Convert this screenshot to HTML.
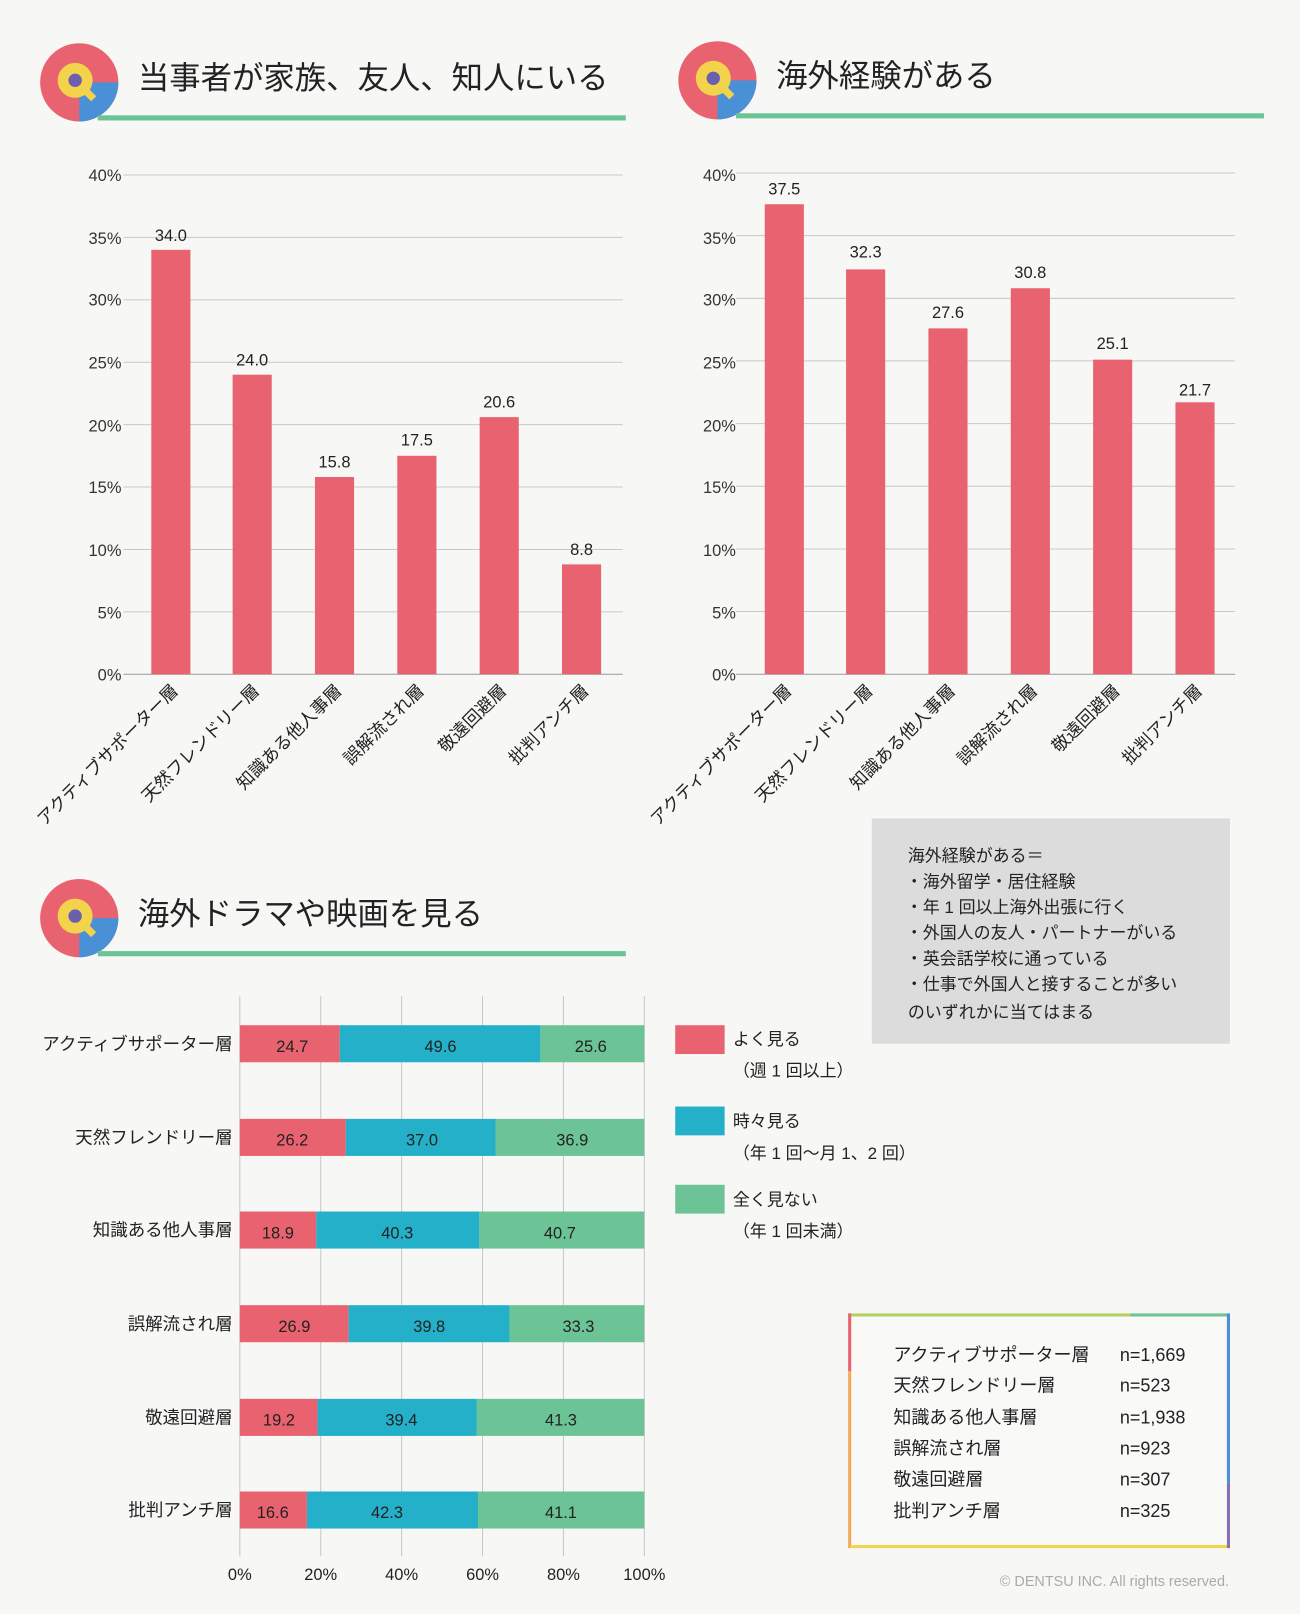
<!DOCTYPE html>
<html><head><meta charset="utf-8"><style>
html,body{margin:0;padding:0;background:#f7f7f5;}
svg{display:block;font-family:"Liberation Sans","Noto Sans CJK JP",sans-serif;}
</style></head><body>
<svg width="1300" height="1614" viewBox="0 0 1263 1568" xmlns="http://www.w3.org/2000/svg">
<rect width="1263" height="1568" fill="#f7f7f5"/>
<defs>
<g id="icon">
<circle cx="0" cy="0" r="38" fill="#e8636f"/>
<path d="M0,0 L38,0 A38,38 0 0 1 0,38 Z" fill="#4a90d6"/>
<path d="M2,4 L14,16" stroke="#f2d34b" stroke-width="7"/>
<circle cx="-4" cy="-2" r="17" fill="#f2d34b"/>
<circle cx="-4" cy="-2" r="6.5" fill="#6d5fb0"/>
</g>
</defs>
<use href="#icon" x="77" y="80"/>
<rect x="95" y="112" width="513" height="5" fill="#6cc396"/>
<text x="134" y="86" font-size="30.5" fill="#222">当事者が家族、友人、知人にいる</text>
<use href="#icon" x="697" y="78"/>
<rect x="715" y="110" width="513" height="5" fill="#6cc396"/>
<text x="754" y="84" font-size="30.5" fill="#222">海外経験がある</text>
<use href="#icon" x="77" y="892"/>
<rect x="95" y="924" width="513" height="5" fill="#6cc396"/>
<text x="134" y="898" font-size="30.5" fill="#222">海外ドラマや映画を見る</text>

<g stroke="#c8c8c8" stroke-width="1">
<line x1="120" y1="170" x2="605" y2="170"/><line x1="120" y1="230.6" x2="605" y2="230.6"/>
<line x1="120" y1="291.3" x2="605" y2="291.3"/><line x1="120" y1="351.9" x2="605" y2="351.9"/>
<line x1="120" y1="412.5" x2="605" y2="412.5"/><line x1="120" y1="473.1" x2="605" y2="473.1"/>
<line x1="120" y1="533.8" x2="605" y2="533.8"/><line x1="120" y1="594.4" x2="605" y2="594.4"/>
<line x1="120" y1="655" x2="605" y2="655" stroke="#999"/>
</g>
<g font-size="16" fill="#333" text-anchor="end">
<text x="118" y="176">40%</text><text x="118" y="237">35%</text><text x="118" y="297">30%</text>
<text x="118" y="358">25%</text><text x="118" y="419">20%</text><text x="118" y="479">15%</text>
<text x="118" y="540">10%</text><text x="118" y="601">5%</text><text x="118" y="661">0%</text>
</g>
<g fill="#e8636f">
<rect x="147" y="242.7" width="38" height="412.3"/><rect x="226" y="364" width="38" height="291"/>
<rect x="306" y="463.4" width="38" height="191.6"/><rect x="386" y="442.8" width="38" height="212.2"/>
<rect x="466" y="405.2" width="38" height="249.8"/><rect x="546" y="548.3" width="38" height="106.7"/>
</g>
<g font-size="16" fill="#222" text-anchor="middle">
<text x="166" y="234">34.0</text><text x="245" y="355">24.0</text><text x="325" y="454">15.8</text>
<text x="405" y="433">17.5</text><text x="485" y="396">20.6</text><text x="565" y="539">8.8</text>
</g>
<g font-size="17" fill="#222" text-anchor="end">
<text transform="translate(174,672) rotate(-45)">アクティブサポーター層</text>
<text transform="translate(253,672) rotate(-45)">天然フレンドリー層</text>
<text transform="translate(333,672) rotate(-45)">知識ある他人事層</text>
<text transform="translate(413,672) rotate(-45)">誤解流され層</text>
<text transform="translate(493,672) rotate(-45)">敬遠回避層</text>
<text transform="translate(573,672) rotate(-45)">批判アンチ層</text>
</g>

<g stroke="#c8c8c8" stroke-width="1">
<line x1="715" y1="168" x2="1200" y2="168"/><line x1="715" y1="228.9" x2="1200" y2="228.9"/>
<line x1="715" y1="289.8" x2="1200" y2="289.8"/><line x1="715" y1="350.6" x2="1200" y2="350.6"/>
<line x1="715" y1="411.5" x2="1200" y2="411.5"/><line x1="715" y1="472.4" x2="1200" y2="472.4"/>
<line x1="715" y1="533.3" x2="1200" y2="533.3"/><line x1="715" y1="594.1" x2="1200" y2="594.1"/>
<line x1="715" y1="655" x2="1200" y2="655" stroke="#999"/>
</g>
<g font-size="16" fill="#333" text-anchor="end">
<text x="715" y="176">40%</text><text x="715" y="237">35%</text><text x="715" y="297">30%</text>
<text x="715" y="358">25%</text><text x="715" y="419">20%</text><text x="715" y="479">15%</text>
<text x="715" y="540">10%</text><text x="715" y="601">5%</text><text x="715" y="661">0%</text>
</g>
<g fill="#e8636f">
<rect x="743" y="198.4" width="38" height="456.6"/><rect x="822" y="261.7" width="38" height="393.3"/>
<rect x="902" y="319" width="38" height="336"/><rect x="982" y="280" width="38" height="375"/>
<rect x="1062" y="349.4" width="38" height="305.6"/><rect x="1142" y="390.8" width="38" height="264.2"/>
</g>
<g font-size="16" fill="#222" text-anchor="middle">
<text x="762" y="189">37.5</text><text x="841" y="250">32.3</text><text x="921" y="309">27.6</text>
<text x="1001" y="270">30.8</text><text x="1081" y="339">25.1</text><text x="1161" y="384">21.7</text>
</g>
<g font-size="17" fill="#222" text-anchor="end">
<text transform="translate(770,672) rotate(-45)">アクティブサポーター層</text>
<text transform="translate(849,672) rotate(-45)">天然フレンドリー層</text>
<text transform="translate(929,672) rotate(-45)">知識ある他人事層</text>
<text transform="translate(1009,672) rotate(-45)">誤解流され層</text>
<text transform="translate(1089,672) rotate(-45)">敬遠回避層</text>
<text transform="translate(1169,672) rotate(-45)">批判アンチ層</text>
</g>

<rect x="847" y="795" width="348" height="219" fill="#dcdcdc"/>
<g font-size="16.5" fill="#222">
<text x="882" y="837">海外経験がある＝</text>
<text x="880" y="862">・海外留学・居住経験</text>
<text x="880" y="887">・年 1 回以上海外出張に行く</text>
<text x="880" y="912">・外国人の友人・パートナーがいる</text>
<text x="880" y="937">・英会話学校に通っている</text>
<text x="880" y="962">・仕事で外国人と接することが多い</text>
<text x="882" y="989">のいずれかに当てはまる</text>
</g>

<g stroke="#c8c8c8" stroke-width="1">
<line x1="233" y1="968" x2="233" y2="1512"/><line x1="311.6" y1="968" x2="311.6" y2="1512"/>
<line x1="390.2" y1="968" x2="390.2" y2="1512"/><line x1="468.8" y1="968" x2="468.8" y2="1512"/>
<line x1="547.4" y1="968" x2="547.4" y2="1512"/><line x1="626" y1="968" x2="626" y2="1512"/>
</g>
<g font-size="16" fill="#222" text-anchor="middle">
<text x="233" y="1535">0%</text><text x="311.6" y="1535">20%</text><text x="390.2" y="1535">40%</text>
<text x="468.8" y="1535">60%</text><text x="547.4" y="1535">80%</text><text x="626" y="1535">100%</text>
</g>
<g font-size="17" fill="#222" text-anchor="end">
<text x="226" y="1020">アクティブサポーター層</text><text x="226" y="1111">天然フレンドリー層</text>
<text x="226" y="1201">知識ある他人事層</text><text x="226" y="1292">誤解流され層</text>
<text x="226" y="1383">敬遠回避層</text><text x="226" y="1473">批判アンチ層</text>
</g>
<g>
<rect x="233" y="996" width="97.1" height="36" fill="#e8636f"/><rect x="330.1" y="996" width="194.9" height="36" fill="#24b0c8"/><rect x="525" y="996" width="101" height="36" fill="#6cc396"/>
<rect x="233" y="1087" width="103" height="36" fill="#e8636f"/><rect x="336" y="1087" width="145.4" height="36" fill="#24b0c8"/><rect x="481.4" y="1087" width="144.6" height="36" fill="#6cc396"/>
<rect x="233" y="1177" width="74.3" height="36" fill="#e8636f"/><rect x="307.3" y="1177" width="158.4" height="36" fill="#24b0c8"/><rect x="465.7" y="1177" width="160.3" height="36" fill="#6cc396"/>
<rect x="233" y="1268" width="105.7" height="36" fill="#e8636f"/><rect x="338.7" y="1268" width="156.4" height="36" fill="#24b0c8"/><rect x="495.1" y="1268" width="130.9" height="36" fill="#6cc396"/>
<rect x="233" y="1359" width="75.5" height="36" fill="#e8636f"/><rect x="308.5" y="1359" width="154.8" height="36" fill="#24b0c8"/><rect x="463.3" y="1359" width="162.7" height="36" fill="#6cc396"/>
<rect x="233" y="1449" width="65.2" height="36" fill="#e8636f"/><rect x="298.2" y="1449" width="166.2" height="36" fill="#24b0c8"/><rect x="464.4" y="1449" width="161.6" height="36" fill="#6cc396"/>
</g>
<g font-size="16" fill="#222" text-anchor="middle">
<text x="284" y="1022">24.7</text><text x="428" y="1022">49.6</text><text x="574" y="1022">25.6</text>
<text x="284" y="1113">26.2</text><text x="410" y="1113">37.0</text><text x="556" y="1113">36.9</text>
<text x="270" y="1203">18.9</text><text x="386" y="1203">40.3</text><text x="544" y="1203">40.7</text>
<text x="286" y="1294">26.9</text><text x="417" y="1294">39.8</text><text x="562" y="1294">33.3</text>
<text x="271" y="1385">19.2</text><text x="390" y="1385">39.4</text><text x="545" y="1385">41.3</text>
<text x="265" y="1475">16.6</text><text x="376" y="1475">42.3</text><text x="545" y="1475">41.1</text>
</g>
<rect x="656" y="996" width="48" height="28" fill="#e8636f"/>
<rect x="656" y="1075" width="48" height="28" fill="#24b0c8"/>
<rect x="656" y="1151" width="48" height="28" fill="#6cc396"/>
<g font-size="16.5" fill="#222">
<text x="712" y="1015">よく見る</text><text x="712" y="1046">（週 1 回以上）</text>
<text x="712" y="1095">時々見る</text><text x="712" y="1126">（年 1 回〜月 1、2 回）</text>
<text x="712" y="1171">全く見ない</text><text x="712" y="1202">（年 1 回未満）</text>
</g>
<rect x="826" y="1277" width="368" height="225" fill="#f9f9f8"/>
<rect x="824" y="1276" width="274" height="3" fill="#b5cf63"/>
<rect x="1098" y="1276" width="97" height="3" fill="#6cc396"/>
<rect x="824" y="1276" width="3" height="56" fill="#e8636f"/>
<rect x="824" y="1332" width="3" height="172" fill="#f0a959"/>
<rect x="826" y="1501" width="369" height="3" fill="#f2d34b"/>
<rect x="1192" y="1276" width="3" height="164" fill="#4a90d6"/>
<rect x="1192" y="1440" width="3" height="64" fill="#8a6fb5"/>
<g font-size="17.5" fill="#222">
<text x="868" y="1322">アクティブサポーター層</text><text x="1088" y="1322">n=1,669</text>
<text x="868" y="1352">天然フレンドリー層</text><text x="1088" y="1352">n=523</text>
<text x="868" y="1383">知識ある他人事層</text><text x="1088" y="1383">n=1,938</text>
<text x="868" y="1413">誤解流され層</text><text x="1088" y="1413">n=923</text>
<text x="868" y="1443">敬遠回避層</text><text x="1088" y="1443">n=307</text>
<text x="868" y="1474">批判アンチ層</text><text x="1088" y="1474">n=325</text>
</g>
<text x="1194" y="1541" font-size="14" fill="#aaa" text-anchor="end">© DENTSU INC. All rights reserved.</text>
</svg>
</body></html>
